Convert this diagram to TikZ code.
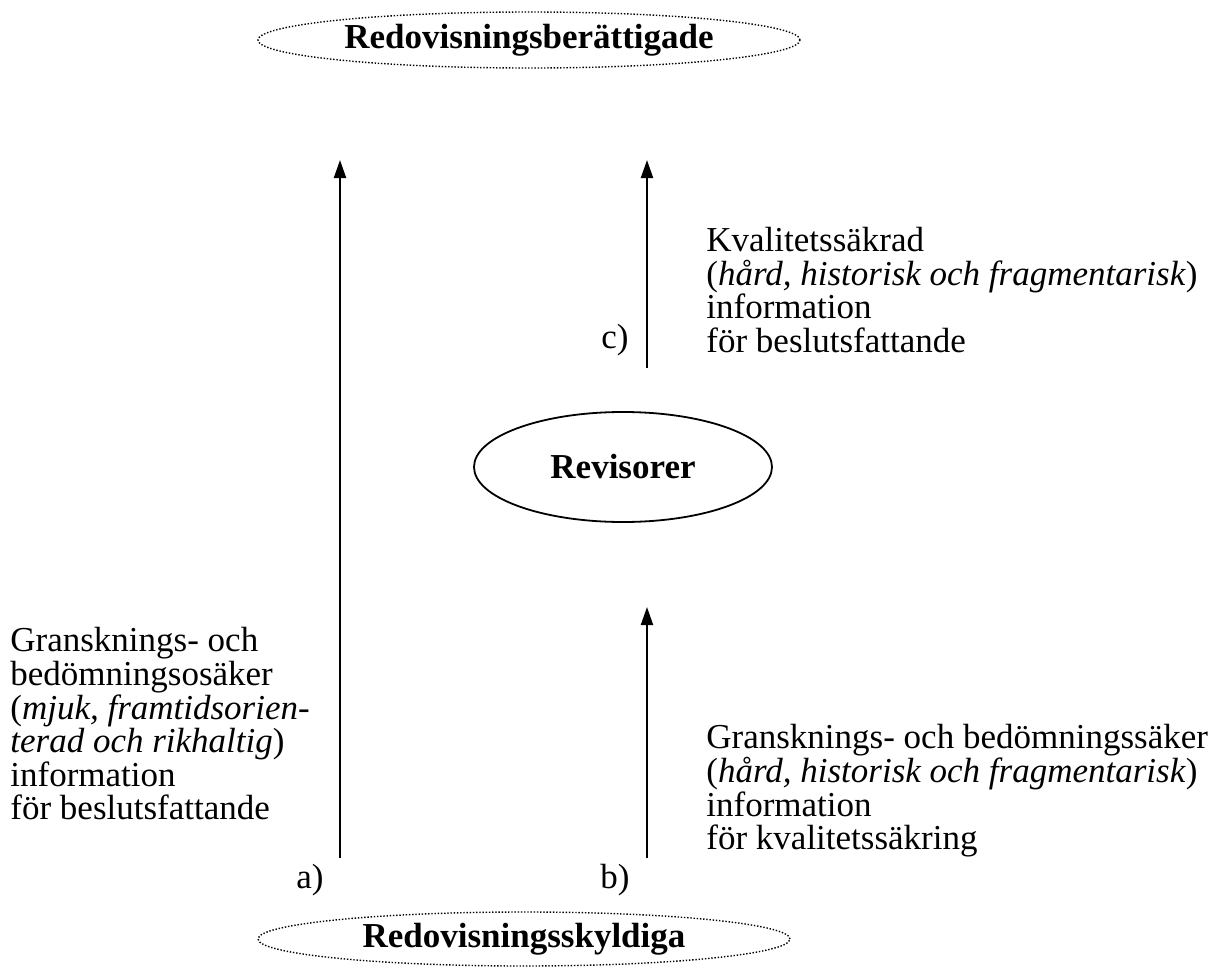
\documentclass[tikz,border=0pt]{standalone}
\usepackage{fontspec}
\setmainfont{Liberation Serif}
\usetikzlibrary{shapes.geometric,arrows.meta}
\begin{document}
\begin{tikzpicture}[x=0.5pt,y=-0.5pt,
  party/.style={ellipse,draw,line width=0.7pt,dash pattern=on 0.7pt off 0.9pt,
    font=\fontsize{17.5}{17.5}\selectfont\bfseries,inner sep=0pt},
  auditor/.style={ellipse,draw,line width=0.9pt,
    font=\fontsize{17.5}{17.5}\selectfont\bfseries,inner sep=0pt},
  flow/.style={line width=1pt,-{Triangle[length=9pt,width=6pt]}},
  desc/.style={align=left,inner sep=0pt,font=\fontsize{17.5}{16.8}\selectfont},
  tag/.style={inner sep=0pt,font=\fontsize{17.5}{17.5}\selectfont}]
  \useasboundingbox (0,0) rectangle (1212,980);

  % parties and auditors
  \node[party,minimum width=271pt,minimum height=28pt] (top) at (529,40) {Redovisningsberättigade};
  \node[party,minimum width=266pt,minimum height=27pt] (bottom) at (524,939) {Redovisningsskyldiga};
  \node[auditor,minimum width=149pt,minimum height=55pt] (rev) at (623,467) {Revisorer};

  % arrow ends
  \coordinate (aS) at (340,858);
  \coordinate (aE) at (340,160);
  \coordinate (bS) at (647,858);
  \coordinate (bE) at (647,607);
  \coordinate (cS) at (647,368);
  \coordinate (cE) at (647,160);

  \draw[flow] (aS) -- (aE);
  \draw[flow] (bS) -- (bE);
  \draw[flow] (cS) -- (cE);

  % arrow tags
  \node[tag] (ta) at (310,880) {a)};
  \node[tag] (tb) at (615,880) {b)};
  \node[tag] (tc) at (615,340) {c)};

  % descriptions
  \node[desc,anchor=west] (da) at (10,724) {Gransknings- och\\bedömningsosäker\\(\textit{mjuk, framtidsorien-}\\\textit{terad och rikhaltig})\\information\\för beslutsfattande};
  \node[desc,anchor=west] (db) at (706,791) {Gransknings- och bedömningssäker\\(\textit{hård, historisk och fragmentarisk})\\information\\för kvalitetssäkring};
  \node[desc,anchor=west] (dc) at (706,290) {Kvalitetssäkrad\\(\textit{hård, historisk och fragmentarisk})\\information\\för beslutsfattande};
\end{tikzpicture}
\end{document}
